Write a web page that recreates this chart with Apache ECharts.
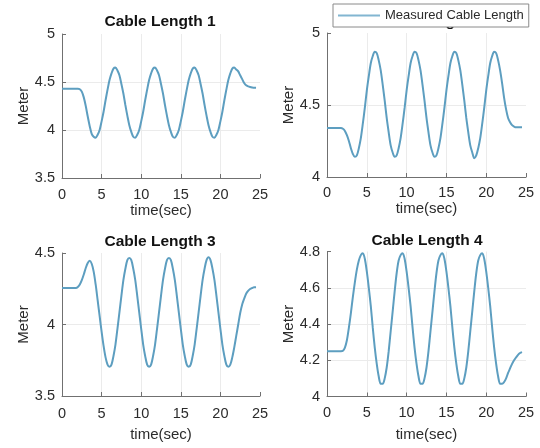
<!DOCTYPE html>
<html>
<head>
<meta charset="utf-8">
<script src="https://cdn.jsdelivr.net/npm/echarts@6.0.0/dist/echarts.min.js"></script>
<style>
html,body{margin:0;padding:0;background:#fff;}
#chart{width:540px;height:448px;}
</style>
</head>
<body>
<div id="chart"></div>
<script>
// time samples (sec), every 0.25 s
const times = [0,0.25,0.5,0.75,1,1.25,1.5,1.75,2,2.25,2.5,2.75,3,3.25,3.5,3.75,
  4,4.25,4.5,4.75,5,5.25,5.5,5.75,6,6.25,6.5,6.75,7,7.25,7.5,7.75,
  8,8.25,8.5,8.75,9,9.25,9.5,9.75,10,10.25,10.5,10.75,11,11.25,11.5,11.75,
  12,12.25,12.5,12.75,13,13.25,13.5,13.75,14,14.25,14.5,14.75,15,15.25,15.5,15.75,
  16,16.25,16.5,16.75,17,17.25,17.5,17.75,18,18.25,18.5,18.75,19,19.25,19.5,19.75,
  20,20.25,20.5,20.75,21,21.25,21.5,21.75,22,22.25,22.5,22.75,23,23.25,23.5,23.75,
  24,24.25,24.5];

const cable1 = [4.43,4.43,4.43,4.43,4.43,4.43,4.43,4.43,4.43,4.425,4.40,4.34,4.25,4.14,4.04,3.96,
  3.93,3.92,3.95,4.00,4.09,4.19,4.31,4.42,4.52,4.59,4.64,4.65,4.62,4.57,4.48,4.38,4.26,4.15,4.05,3.98,
  3.93,3.92,3.95,4.00,4.09,4.19,4.31,4.42,4.52,4.59,4.64,4.65,4.62,4.57,4.48,4.38,4.26,4.15,4.05,3.98,
  3.93,3.92,3.95,4.00,4.09,4.19,4.31,4.42,4.52,4.59,4.64,4.65,4.62,4.57,4.48,4.38,4.26,4.15,4.05,3.98,
  3.93,3.92,3.95,4.00,4.09,4.19,4.31,4.42,4.52,4.59,4.64,4.65,
  4.63,4.61,4.57,4.53,4.49,4.465,4.455,4.448,4.443,4.44,4.44];

const cable2 = [4.34,4.34,4.34,4.34,4.34,4.34,4.34,4.34,4.335,4.32,4.29,4.25,4.20,4.16,
  4.14,4.15,4.20,4.27,4.37,4.48,4.60,4.70,4.79,4.84,4.87,4.86,4.81,4.74,4.64,4.53,4.41,4.31,4.22,4.17,
  4.14,4.15,4.20,4.27,4.37,4.48,4.60,4.70,4.79,4.84,4.87,4.86,4.81,4.74,4.64,4.53,4.41,4.31,4.22,4.17,
  4.14,4.15,4.20,4.27,4.37,4.48,4.60,4.70,4.79,4.84,4.87,4.86,4.81,4.74,4.64,4.53,4.41,4.31,4.22,4.17,
  4.13,4.15,4.20,4.27,4.37,4.48,4.60,4.70,4.79,4.84,4.87,
  4.86,4.81,4.74,4.65,4.55,4.47,4.41,4.38,4.36,4.35,4.345,4.345,4.345,4.345];

const cable3 = [4.255,4.255,4.255,4.255,4.255,4.255,4.255,4.255,
  4.262,4.28,4.31,4.35,4.395,4.43,4.445,4.425,4.37,4.28,4.17,4.06,3.95,3.85,3.77,3.72,
  3.705,3.72,3.78,3.86,3.97,4.085,4.20,4.31,4.39,4.45,
  4.465,4.45,4.39,4.31,4.20,4.085,3.97,3.86,3.78,3.72,3.705,3.72,3.78,3.86,3.97,4.085,4.20,4.31,4.39,4.45,
  4.465,4.45,4.39,4.31,4.20,4.085,3.97,3.86,3.78,3.72,3.705,3.72,3.78,3.86,3.97,4.085,4.20,4.31,4.39,4.45,
  4.47,4.45,4.39,4.31,4.20,4.085,3.97,3.86,3.78,3.72,3.705,
  3.72,3.77,3.84,3.92,4.00,4.08,4.14,4.18,4.215,4.235,4.248,4.255,4.26,4.26];

const cable4 = [4.25,4.25,4.25,4.25,4.25,4.25,4.25,4.25,
  4.252,4.27,4.31,4.38,4.46,4.55,4.63,4.70,4.75,4.78,
  4.79,4.76,4.69,4.60,4.50,4.38,4.27,4.18,4.11,4.07,4.07,4.10,4.16,4.25,4.36,4.47,4.58,4.68,4.75,4.78,
  4.79,4.76,4.69,4.60,4.50,4.38,4.27,4.18,4.11,4.07,4.07,4.10,4.16,4.25,4.36,4.47,4.58,4.68,4.75,4.78,
  4.79,4.76,4.69,4.60,4.50,4.38,4.27,4.18,4.11,4.07,4.07,4.10,4.16,4.25,4.36,4.47,4.58,4.68,4.75,4.78,
  4.79,4.76,4.69,4.60,4.50,4.38,4.27,4.18,4.11,4.07,
  4.07,4.08,4.10,4.13,4.155,4.18,4.20,4.215,4.23,4.24,4.245];

const titles = ['Cable Length 1','Cable Length 2','Cable Length 3','Cable Length 4'];
const seriesName = 'Measured Cable Length';
const xTicks = [0,5,10,15,20,25];
const yTicks1 = [3.5,4,4.5,5];
const yTicks2 = [4,4.5,5];
const yTicks3 = [3.5,4,4.5];
const yTicks4 = [4,4.2,4.4,4.6,4.8];
const xName = 'time(sec)';
const yName = 'Meter';

const FONT = '"Liberation Sans", Arial, Helvetica, sans-serif';
const AX = '#707070';
const TXT = '#2b2b2b';
const LINE = '#5d9ec0';

const grids = [
  {left:62, top:34, width:198, height:144},
  {left:327, top:33, width:199, height:144},
  {left:62, top:253, width:198, height:143},
  {left:327, top:251.5, width:199, height:145}
];
const xNameGaps = [23, 24, 31, 31];
const xLabelMargins = [9, 8, 10, 9];
const yNameGaps = [31, 31, 31, 28.5];
const yTickSets = [yTicks1, yTicks2, yTicks3, yTicks4];
const dataSets = [cable1, cable2, cable3, cable4];
const titlePos = [[160,13],[427,13],[160,233],[427,232.5]];

function pairs(vals){ return times.map((t,i)=>[t, vals[i]]); }

const option = {
  animation:false,
  backgroundColor:'#fff',
  title: titles.map((t,i)=>({
    text:t, left:titlePos[i][0], top:titlePos[i][1], textAlign:'center', z:1,
    padding:0,
    textStyle:{fontFamily:FONT, fontSize:15.5, fontWeight:'bold', color:'#111', lineHeight:17}
  })),
  legend:{
    data:[seriesName], left:333, top:4, z:20, selectedMode:false,
    icon:'rect', itemWidth:42, itemHeight:2, itemGap:5, padding:[4,5,4,5],
    borderColor:'#8a8a8a', borderWidth:1, backgroundColor:'#fff', borderRadius:0,
    itemStyle:{color:'#82b6d1'},
    textStyle:{fontFamily:FONT, fontSize:13, color:TXT, lineHeight:15}
  },
  grid: grids.map(g=>Object.assign({containLabel:false}, g)),
  xAxis: grids.map((g,i)=>({
    gridIndex:i, type:'value', min:xTicks[0], max:xTicks[xTicks.length-1],
    interval:xTicks[1]-xTicks[0],
    name:xName, nameLocation:'middle', nameGap:xNameGaps[i],
    nameTextStyle:{fontFamily:FONT, fontSize:15, color:TXT},
    axisLine:{show:true, onZero:false, lineStyle:{color:AX, width:1}},
    axisTick:{show:true, inside:true, length:4, lineStyle:{color:AX}},
    axisLabel:{margin:xLabelMargins[i], fontFamily:FONT, fontSize:14.5, color:TXT},
    splitLine:{show:true, showMinLine:false, showMaxLine:false, lineStyle:{color:'#ebebeb', width:1}}
  })),
  yAxis: grids.map((g,i)=>{
    const tk = yTickSets[i];
    return {
      gridIndex:i, type:'value', min:tk[0], max:tk[tk.length-1],
      interval:+(tk[1]-tk[0]).toFixed(2),
      name:yName, nameLocation:'middle', nameGap:yNameGaps[i],
      nameTextStyle:{fontFamily:FONT, fontSize:15, color:TXT},
      axisLine:{show:true, onZero:false, lineStyle:{color:AX, width:1}},
      axisTick:{show:true, inside:true, length:4, lineStyle:{color:AX}},
      axisLabel:{margin:7, fontFamily:FONT, fontSize:14.5, color:TXT,
        formatter:(v)=>String(+v.toFixed(2))},
      splitLine:{show:true, showMinLine:false, showMaxLine:false, lineStyle:{color:'#ebebeb', width:1}}
    };
  }),
  series: dataSets.map((d,i)=>({
    name:seriesName, type:'line', xAxisIndex:i, yAxisIndex:i,
    data:pairs(d), symbol:'none', showSymbol:false, smooth:0.3,
    lineStyle:{color:LINE, width:2}, itemStyle:{color:LINE}
  }))
};

const chart = echarts.init(document.getElementById('chart'), null, {renderer:'canvas'});
chart.setOption(option);
</script>
</body>
</html>
